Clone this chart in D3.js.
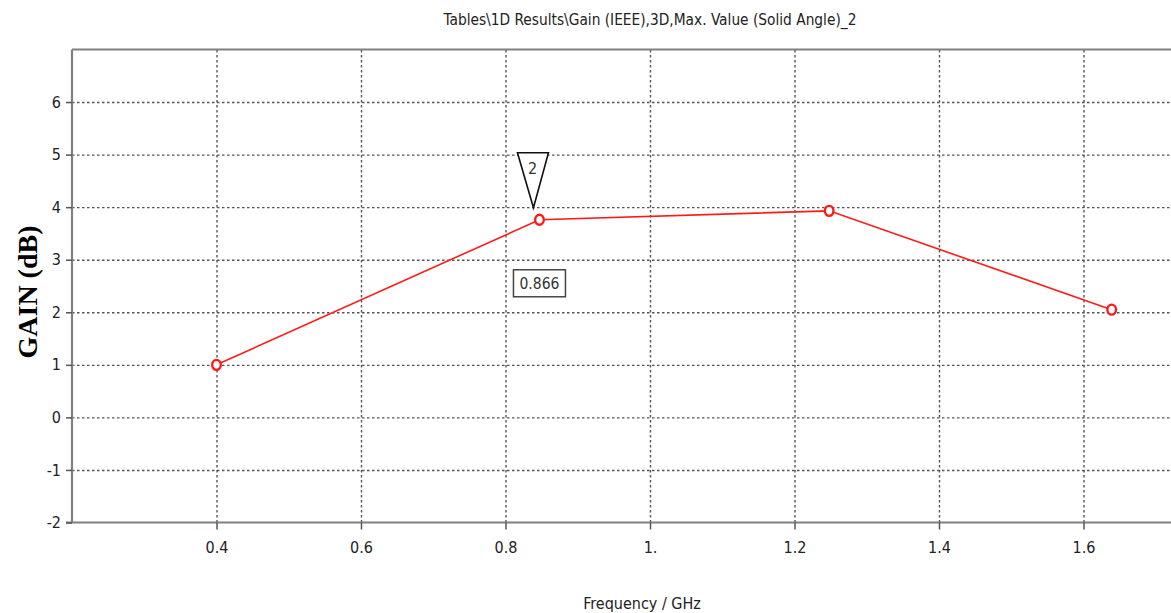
<!DOCTYPE html>
<html><head><meta charset="utf-8">
<script src="https://cdn.jsdelivr.net/npm/d3@7"></script>
<style>body{margin:0;background:#fff;overflow:hidden}</style>
</head><body>
<script>
const freqGHz = [0.4, 0.847, 1.248, 1.639];
const gainDB = [1.0, 3.76, 3.93, 2.05];
const xTicks = [0.4, 0.6, 0.8, 1.0, 1.2, 1.4, 1.6];
const xTickLabels = ["0.4", "0.6", "0.8", "1.", "1.2", "1.4", "1.6"];
const yTicks = [-2, -1, 0, 1, 2, 3, 4, 5, 6];
const yTickLabels = ["-2", "-1", "0", "1", "2", "3", "4", "5", "6"];
const markerIndex = 1;
const markerLabel = "2";
const markerValueText = "0.866";
const titleText = "Tables\\1D Results\\Gain (IEEE),3D,Max. Value (Solid Angle)_2";
const xLabelText = "Frequency / GHz";
const yLabelText = "GAIN (dB)";

const W = 1171, H = 613;
const svg = d3.select("body").append("svg").attr("width", W).attr("height", H);
const pLeft = 72, pTop = 49.5, pBottom = 522.5;
const x = d3.scaleLinear().domain([0.2, 1.8]).range([pLeft, pLeft + 1.6 * 722.5]);
const y = d3.scaleLinear().domain([-2, 7]).range([pBottom, pTop]);
const font = "Tahoma, 'DejaVu Sans Condensed', 'DejaVu Sans', sans-serif";
const gridColor = "#555", axisColor = "#808080";

svg.append("defs").append("clipPath").attr("id", "clip")
  .append("rect").attr("x", pLeft).attr("y", pTop).attr("width", W - pLeft).attr("height", pBottom - pTop);

const g = svg.append("g");
// grid
g.append("g").attr("transform", `translate(0,${pBottom})`)
  .call(d3.axisBottom(x).tickValues(xTicks).tickSize(-(pBottom - pTop)).tickFormat(""))
  .call(s => { s.select(".domain").remove();
    s.selectAll("line").attr("stroke", gridColor).attr("stroke-width", 1.4).attr("stroke-dasharray", "2.5,2.5"); });
g.append("g").attr("transform", `translate(${pLeft},0)`)
  .call(d3.axisLeft(y).tickValues(yTicks.filter(v => v > -2)).tickSize(-(W - pLeft)).tickFormat(""))
  .call(s => { s.select(".domain").remove();
    s.selectAll("line").attr("stroke", gridColor).attr("stroke-width", 1.4).attr("stroke-dasharray", "2.5,2.5"); });

// axes
const xa = g.append("g").attr("transform", `translate(0,${pBottom})`)
  .call(d3.axisBottom(x).tickValues(xTicks).tickSize(7).tickPadding(12).tickFormat((d, i) => xTickLabels[i]));
xa.select(".domain").attr("stroke", axisColor).attr("stroke-width", 2.2).attr("d", `M${pLeft - 6},0H${W}`);
xa.selectAll("line").attr("stroke", "#555").attr("stroke-width", 1.5);
xa.selectAll("text").attr("font-family", font).attr("font-size", 16).attr("fill", "#222");

const ya = g.append("g").attr("transform", `translate(${pLeft},0)`)
  .call(d3.axisLeft(y).tickValues(yTicks).tickSize(6).tickPadding(5).tickFormat((d, i) => yTickLabels[i]));
ya.select(".domain").attr("stroke", axisColor).attr("stroke-width", 2.2).attr("d", `M0,${pTop}V${pBottom}`);
ya.selectAll("line").attr("stroke", "#555").attr("stroke-width", 1.5);
ya.selectAll("text").attr("font-family", font).attr("font-size", 16).attr("fill", "#222");

// top border
g.append("line").attr("x1", pLeft).attr("x2", W).attr("y1", pTop).attr("y2", pTop)
  .attr("stroke", axisColor).attr("stroke-width", 2.2);

// data
const pts = freqGHz.map((f, i) => [f, gainDB[i]]);
const plot = g.append("g").attr("clip-path", "url(#clip)");
plot.append("path").datum(pts)
  .attr("d", d3.line().x(d => x(d[0])).y(d => y(d[1])))
  .attr("fill", "none").attr("stroke", "#ff1a1a").attr("stroke-width", 1.6);
plot.selectAll("ellipse").data(pts).join("ellipse")
  .attr("cx", d => x(d[0])).attr("cy", d => y(d[1])).attr("rx", 4.3).attr("ry", 5)
  .attr("fill", "#fff").attr("stroke", "#ff1a1a").attr("stroke-width", 2.4);

// marker
const mx = x(freqGHz[markerIndex]), my = y(gainDB[markerIndex]);
const ax = mx - 6, ay = my - 12;
g.append("path").attr("d", `M${ax - 16},${ay - 55}H${ax + 15}L${ax},${ay}Z`)
  .attr("fill", "#fff").attr("stroke", "#111").attr("stroke-width", 1.6);
g.append("text").attr("x", ax - 1).attr("y", ay - 34).attr("text-anchor", "middle")
  .attr("font-family", font).attr("font-size", 16).attr("fill", "#333").text(markerLabel);
g.append("rect").attr("x", mx - 26).attr("y", my + 50).attr("width", 52).attr("height", 27)
  .attr("fill", "#fff").attr("stroke", "#444").attr("stroke-width", 1.5);
g.append("text").attr("x", mx).attr("y", my + 69).attr("text-anchor", "middle")
  .attr("font-family", font).attr("font-size", 15.5).attr("fill", "#333").text(markerValueText);

// titles
svg.append("text").attr("x", 650).attr("y", 25).attr("text-anchor", "middle")
  .attr("font-family", font).attr("font-size", 15.3).attr("fill", "#222").text(titleText);
svg.append("text").attr("x", 642).attr("y", 609).attr("text-anchor", "middle")
  .attr("font-family", font).attr("font-size", 16).attr("fill", "#222").text(xLabelText);
svg.append("text").attr("transform", "translate(37,292) rotate(-90)").attr("text-anchor", "middle")
  .attr("font-family", "'Liberation Serif', 'Times New Roman', serif").attr("font-weight", "bold")
  .attr("font-size", 28).attr("fill", "#000").text(yLabelText);
</script>
</body></html>
